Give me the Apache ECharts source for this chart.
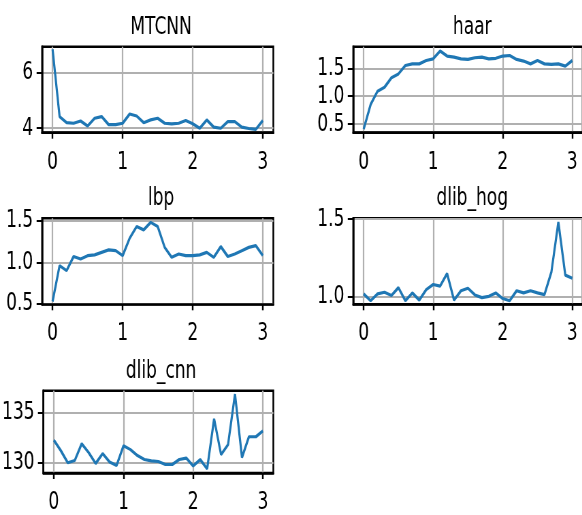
<!DOCTYPE html>
<html>
<head>
<meta charset="utf-8">
<script src="https://cdn.jsdelivr.net/npm/echarts@6/dist/echarts.min.js"></script>
<style>
html,body{margin:0;padding:0;background:#fff;overflow:hidden;width:582px;height:515px;}
#c{position:absolute;left:0;top:0;height:515px;transform-origin:0 0;}
</style>
</head>
<body>
<div id="c"></div>
<script>
// ---- data ----
const xs = [0,0.1,0.2,0.3,0.4,0.5,0.6,0.7,0.8,0.9,1.0,1.1,1.2,1.3,1.4,1.5,1.6,1.7,1.8,1.9,2.0,2.1,2.2,2.3,2.4,2.5,2.6,2.7,2.8,2.9,3.0];
const titles = ['MTCNN','haar','lbp','dlib_hog','dlib_cnn'];
const mtcnn = [6.84,4.42,4.20,4.18,4.26,4.08,4.36,4.42,4.13,4.13,4.18,4.51,4.44,4.20,4.30,4.36,4.18,4.16,4.18,4.28,4.16,4.00,4.30,4.04,4.00,4.24,4.24,4.04,3.99,3.96,4.28];
const haar = [0.41,0.85,1.09,1.16,1.33,1.40,1.55,1.58,1.58,1.64,1.67,1.81,1.72,1.70,1.67,1.66,1.69,1.70,1.67,1.68,1.72,1.73,1.66,1.63,1.58,1.64,1.58,1.57,1.58,1.54,1.64];
const lbp = [0.53,0.96,0.90,1.07,1.04,1.08,1.09,1.12,1.15,1.14,1.08,1.29,1.43,1.39,1.48,1.43,1.18,1.06,1.10,1.08,1.08,1.09,1.12,1.06,1.19,1.07,1.10,1.14,1.18,1.20,1.08];
const dlibHog = [1.02,0.976,1.02,1.03,1.01,1.06,0.976,1.026,0.98,1.047,1.08,1.07,1.15,0.98,1.04,1.056,1.013,0.996,1.004,1.026,0.99,0.976,1.04,1.026,1.04,1.026,1.015,1.16,1.48,1.14,1.12];
const dlibCnn = [132.26,131.2,129.97,130.2,131.9,131.0,129.9,130.9,130.06,129.7,131.7,131.3,130.7,130.3,130.16,130.1,129.8,129.8,130.3,130.45,129.65,130.3,129.35,134.4,130.8,131.8,136.9,130.5,132.6,132.6,133.2];
const xTicks = [0,1,2,3];
const yTicks = [[4,6],[0.5,1.0,1.5],[0.5,1.0,1.5],[1.0,1.5],[130,135]];
const yRanges = [[3.84,6.93],[0.344,1.888],[0.496,1.529],[0.953,1.5045],[128.94,137.25]];
const yDecimals = [0,1,1,1,0];
const seriesValues = [mtcnn, haar, lbp, dlibHog, dlibCnn];

// ---- layout ----
const S = 0.68;              // horizontal compression of the reference
const W = 582 / S;
const X = px => px / S;
const el = document.getElementById('c');
el.style.width = W + 'px';
el.style.transform = 'scaleX(' + S + ')';

const colLeft = [42, 352.8];
const colWidth = 231;
const rowTop = [46.7, 218.3, 390.7];
const gridH = 86;
const FONT = 'DejaVu Sans';
const FS = 25;

const grids = [], xAxes = [], yAxes = [], series = [], titleOpts = [];
for (let i = 0; i < 5; i++) {
  const col = i % 2, row = Math.floor(i / 2);
  grids.push({
    left: X(colLeft[col]), top: rowTop[row], width: X(colWidth), height: gridH,
    show: true, borderColor: '#000', borderWidth: 2.5, backgroundColor: 'transparent',
    containLabel: false
  });
  xAxes.push({
    type: 'value', gridIndex: i, min: -0.15, max: 3.15,
    axisLine: {show: true, onZero: false, lineStyle: {color: '#000', width: 2.5}},
    axisTick: {show: true, length: 6, customValues: xTicks, lineStyle: {color: '#000', width: 2.4}},
    axisLabel: {show: true, customValues: xTicks, margin: 17, fontSize: FS, fontFamily: FONT, color: '#000',
      formatter: v => String(Math.round(v))},
    splitLine: {show: true, lineStyle: {color: '#b0b0b0', width: 2.2}}
  });
  const dec = yDecimals[i];
  yAxes.push({
    type: 'value', gridIndex: i, min: yRanges[i][0], max: yRanges[i][1],
    axisLine: {show: true, onZero: false, lineStyle: {color: '#000', width: 2.5}},
    axisTick: {show: true, length: 8, customValues: yTicks[i], lineStyle: {color: '#000', width: 2}},
    axisLabel: {show: true, customValues: yTicks[i], margin: 13, fontSize: FS, fontFamily: FONT, color: '#000',
      formatter: v => Number(v).toFixed(dec)},
    splitLine: {show: true, lineStyle: {color: '#b0b0b0', width: 2}}
  });
  series.push({
    type: 'line', xAxisIndex: i, yAxisIndex: i,
    data: xs.map((x, k) => [x, seriesValues[i][k]]),
    showSymbol: false, symbol: 'none', clip: true,
    lineStyle: {color: '#1f77b4', width: 3.2}
  });
  titleOpts.push({
    text: titles[i], left: X(colLeft[col] + colWidth / 2), top: rowTop[row] - 37, textAlign: 'center',
    textStyle: {fontSize: FS, fontWeight: 'normal', fontFamily: FONT, color: '#000'}
  });
}

const chart = echarts.init(el, null, {renderer: 'canvas', width: W, height: 515});
chart.setOption({
  animation: false,
  backgroundColor: '#fff',
  title: titleOpts,
  grid: grids,
  xAxis: xAxes,
  yAxis: yAxes,
  series: series
});
</script>
</body>
</html>
